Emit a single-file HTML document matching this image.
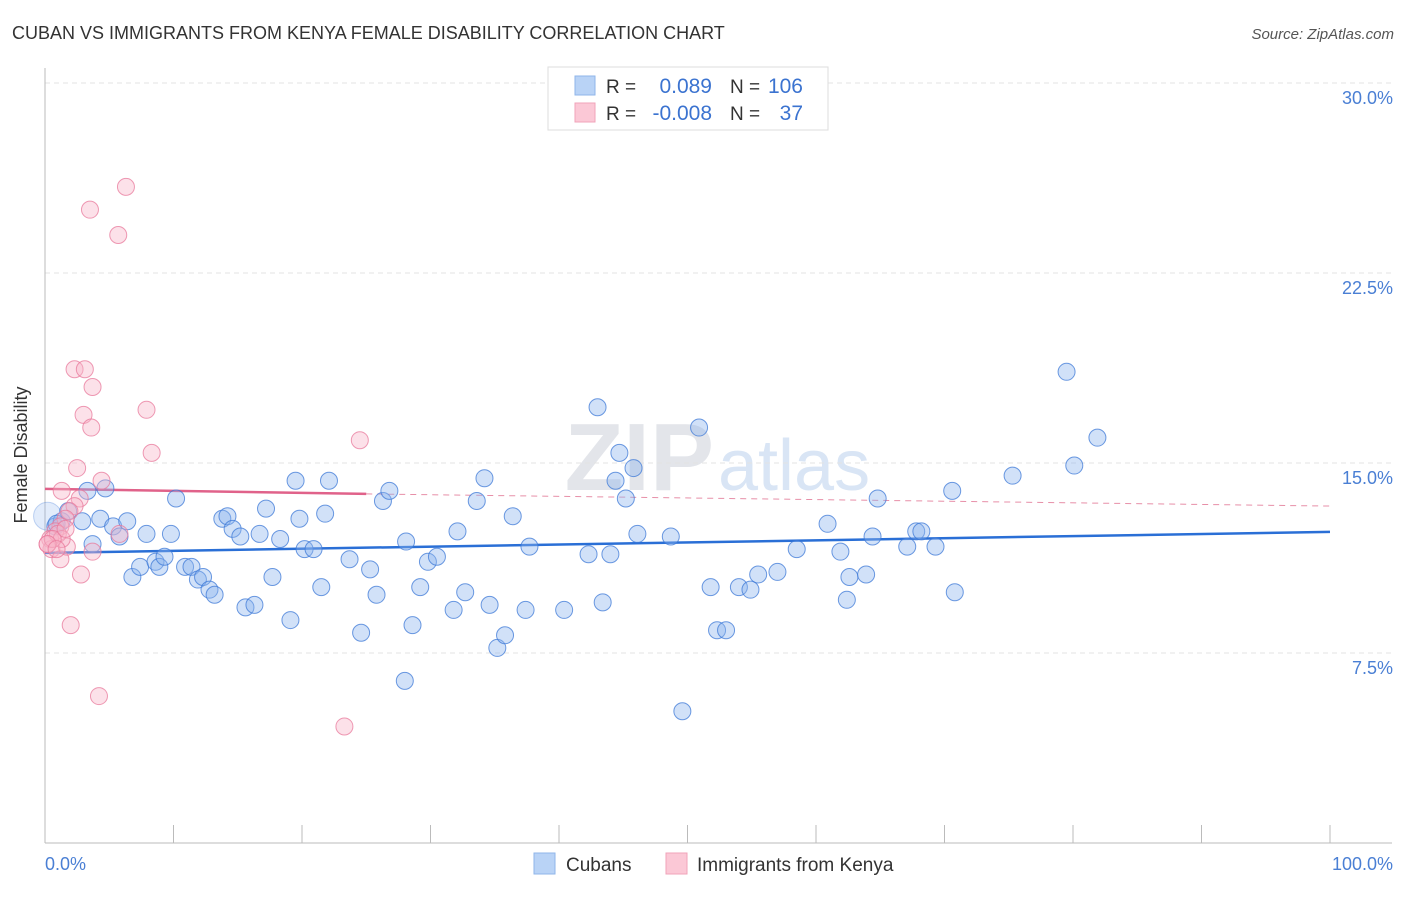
<!DOCTYPE html>
<html><head><meta charset="utf-8"><style>
body{margin:0;background:#fff;font-family:"Liberation Sans",sans-serif;}
svg text{font-family:"Liberation Sans",sans-serif;}
</style></head><body>
<svg width="1406" height="892" id="chart">
<text x="12" y="39" font-size="18" fill="#333">CUBAN VS IMMIGRANTS FROM KENYA FEMALE DISABILITY CORRELATION CHART</text>
<text x="1394" y="39" font-size="15" fill="#555" font-style="italic" text-anchor="end">Source: ZipAtlas.com</text>
<text x="714" y="490" font-size="96" fill="#e3e5ea" text-anchor="end" font-family="Liberation Serif" font-weight="bold">ZIP</text>
<text x="718" y="490" font-size="72" fill="#d9e5f5">atlas</text>
<g id="grid"></g>
<line x1="45" y1="68" x2="45" y2="843" stroke="#bbb"/>
<line x1="45" y1="843" x2="1392" y2="843" stroke="#bbb"/>
<text x="27" y="455" font-size="18" fill="#333" text-anchor="middle" transform="rotate(-90 27 455)">Female Disability</text>
<text x="45" y="870" font-size="18" fill="#4a7fd4">0.0%</text>
<text x="1393" y="870" font-size="18" fill="#4a7fd4" text-anchor="end">100.0%</text>
<g id="trends"></g>
<g id="points"></g>
<g>
<rect x="548" y="67" width="280" height="63" fill="#fff" stroke="#ddd"/>
<rect x="575" y="76" width="20" height="19" fill="#b9d3f6" stroke="#8fb6ea"/>
<rect x="575" y="103" width="20" height="19" fill="#fbc8d6" stroke="#f0a3b9"/>
<text x="606" y="93" font-size="19" fill="#333">R = </text><text x="712" y="93" font-size="21" fill="#3b73d0" text-anchor="end">0.089</text>
<text x="730" y="93" font-size="19" fill="#333">N = </text><text x="803" y="93" font-size="21" fill="#3b73d0" text-anchor="end">106</text>
<text x="606" y="120" font-size="19" fill="#333">R = </text><text x="712" y="120" font-size="21" fill="#3b73d0" text-anchor="end">-0.008</text>
<text x="730" y="120" font-size="19" fill="#333">N = </text><text x="803" y="120" font-size="21" fill="#3b73d0" text-anchor="end">37</text>
</g>
<g>
<rect x="534" y="853" width="21" height="21" fill="#b9d3f6" stroke="#8fb6ea"/>
<text x="566" y="871" font-size="19" fill="#333">Cubans</text>
<rect x="666" y="853" width="21" height="21" fill="#fbc8d6" stroke="#f0a3b9"/>
<text x="697" y="871" font-size="19" fill="#333">Immigrants from Kenya</text>
</g>
</svg>
<script>
const yTicks=[7.5,15,22.5,30];
const yTickLabels=["7.5%","15.0%","22.5%","30.0%"];
const xTicks=[0,10,20,30,40,50,60,70,80,90,100];
const blueX=[0.8,1.3,1.8,3.3,2.9,3.7,4.3,4.7,5.3,5.8,6.4,6.8,7.4,7.9,8.6,8.9,9.3,9.8,10.2,10.9,11.4,11.9,12.3,12.8,13.2,13.8,14.2,14.6,15.2,15.6,16.3,16.7,17.2,17.7,18.3,19.1,19.5,19.8,20.2,20.9,21.5,21.8,22.1,23.7,24.6,25.3,25.8,26.3,26.8,28.1,28.0,28.6,29.2,29.8,30.5,31.8,32.1,32.7,33.6,34.2,34.6,35.2,35.8,36.4,37.4,37.7,40.4,42.3,43.0,43.4,44.0,44.4,44.7,45.2,45.8,46.1,48.7,49.6,50.9,51.8,52.3,53.0,54.0,54.9,55.5,57.0,58.5,60.9,61.9,62.4,62.6,63.9,64.4,64.8,67.1,67.8,68.2,69.3,70.6,70.8,75.3,79.5,80.1,81.9,0.2,0.9];
const blueY=[12.5,12.7,13.1,13.9,12.7,11.8,12.8,14.0,12.5,12.1,12.7,10.5,10.9,12.2,11.1,10.9,11.3,12.2,13.6,10.9,10.9,10.4,10.5,10.0,9.8,12.8,12.9,12.4,12.1,9.3,9.4,12.2,13.2,10.5,12.0,8.8,14.3,12.8,11.6,11.6,10.1,13.0,14.3,11.2,8.3,10.8,9.8,13.5,13.9,11.9,6.4,8.6,10.1,11.1,11.3,9.2,12.3,9.9,13.5,14.4,9.4,7.7,8.2,12.9,9.2,11.7,9.2,11.4,17.2,9.5,11.4,14.3,15.4,13.6,14.8,12.2,12.1,5.2,16.4,10.1,8.4,8.4,10.1,10.0,10.6,10.7,11.6,12.6,11.5,9.6,10.5,10.6,12.1,13.6,11.7,12.3,12.3,11.7,13.9,9.9,14.5,18.6,14.9,16.0,12.9,12.6];
const pinkX=[6.3,3.5,5.7,2.3,3.1,3.7,3.0,3.6,7.9,8.3,2.5,4.4,1.3,2.7,2.3,1.9,1.6,1.2,0.8,0.4,0.5,0.2,1.2,1.7,1.0,1.3,2.8,2.0,4.2,23.3,24.5,5.8,3.7,0.6,0.2,0.9,1.6];
const pinkY=[25.9,25.0,24.0,18.7,18.7,18.0,16.9,16.4,17.1,15.4,14.8,14.3,13.9,13.6,13.3,13.1,12.8,12.5,12.3,12.0,11.6,11.8,11.2,11.7,12.2,12.0,10.6,8.6,5.8,4.6,15.9,12.2,11.5,12.0,11.8,11.6,12.4];
const blueTrend=[11.45,12.28];
const pinkTrendSolid=[13.98,13.78];
const pinkSolidEnd=25;
const pinkTrendDashEnd=13.3;
const NS="http://www.w3.org/2000/svg";
const sx=v=>45+v*12.85;
const sy=v=>843-v*25.333;
function mk(tag,attrs,parent){const e=document.createElementNS(NS,tag);for(const k in attrs)e.setAttribute(k,attrs[k]);document.getElementById(parent).appendChild(e);return e;}
yTicks.forEach((t,i)=>{
 const l=mk('line',{x1:45,x2:1392,y1:sy(t),y2:sy(t),stroke:'#e3e3e3','stroke-dasharray':'5,4'},'grid');
 
 
 const tx=mk('text',{x:1393,y:sy(t)+21,'font-size':18,fill:'#4a7fd4','text-anchor':'end'},'grid');
 tx.textContent=yTickLabels[i];
 
 
});
xTicks.forEach(t=>{
 const l=mk('line',{x1:sx(t),x2:sx(t),y1:825,y2:843,stroke:'#bbb'},'grid');
 
 
});
const bt=mk('line',{x1:sx(0),y1:sy(blueTrend[0]),x2:sx(100),y2:sy(blueTrend[1]),stroke:'#2a6fd6','stroke-width':2.5},'trends');


const pd=mk('line',{x1:sx(pinkSolidEnd),y1:sy(pinkTrendSolid[1]),x2:sx(100),y2:sy(pinkTrendDashEnd),stroke:'#e78fa8','stroke-width':1,'stroke-dasharray':'6,5'},'trends');


const ps=mk('line',{x1:sx(0),y1:sy(pinkTrendSolid[0]),x2:sx(pinkSolidEnd),y2:sy(pinkTrendSolid[1]),stroke:'#e0628a','stroke-width':2.5},'trends');


blueX.forEach((x,i)=>{
 const big=(i===blueX.length-2);
 const c=mk('circle',{cx:sx(x),cy:sy(blueY[i]),r:(big?14:8.5),fill:(big?'rgba(140,180,238,0.25)':'rgba(140,180,238,0.4)'),stroke:(big?'rgba(60,120,215,0.3)':'rgba(60,120,215,0.75)'),'stroke-width':1},'points');
 
 
});
pinkX.forEach((x,i)=>{
 const c=mk('circle',{cx:sx(x),cy:sy(pinkY[i]),r:8.5,fill:'rgba(248,180,200,0.4)',stroke:'rgba(232,120,155,0.75)','stroke-width':1},'points');
 
 
});
</script>
</body></html>
